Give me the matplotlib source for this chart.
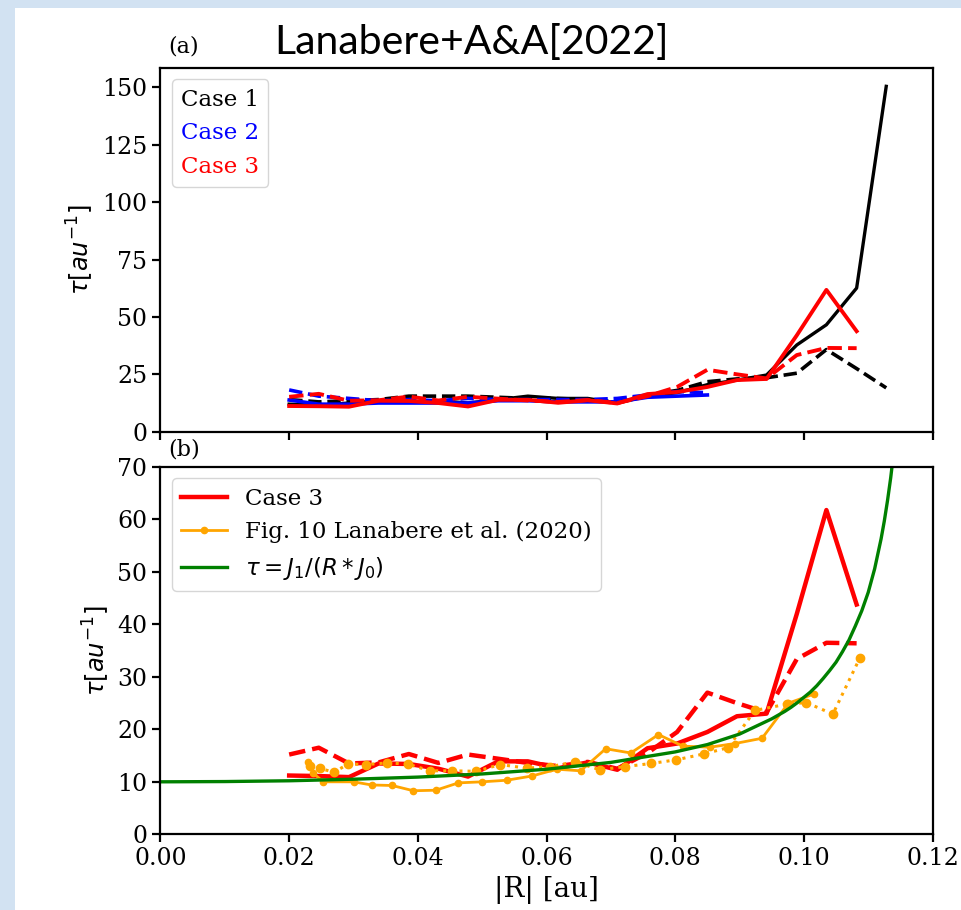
import matplotlib.pyplot as plt
from matplotlib.patches import Rectangle

# radial bins of the simulation cases (|R| in au)
r_case = [0.0200, 0.0246, 0.0293, 0.0339, 0.0386, 0.0432, 0.0478, 0.0525, 0.0571,
          0.0618, 0.0664, 0.0710, 0.0757, 0.0803, 0.0850, 0.0896, 0.0942, 0.0989,
          0.1035, 0.1082, 0.1128]

case1_solid = [12.0, 11.5, 12.5, 13.5, 13.0, 13.5, 12.5, 14.0, 15.5, 14.5, 14.5,
               12.5, 15.5, 17.0, 20.5, 22.5, 24.7, 37.8, 46.6, 62.6, 150.5]
case1_dash = [14.0, 13.0, 13.5, 14.0, 15.5, 15.5, 15.5, 15.0, 14.5, 14.5, 14.0,
              13.0, 16.0, 18.0, 21.8, 23.0, 23.5, 25.5, 35.8, 27.5, 19.1]
case2_solid = [13.8, 12.0, 12.0, 12.5, 12.5, 12.5, 12.5, 13.5, 13.5, 13.0, 13.0,
               13.0, 15.0, 15.5, 16.0]
case2_dash = [18.2, 15.5, 14.5, 13.5, 14.0, 13.5, 14.5, 14.0, 14.0, 14.0, 14.0,
              14.5, 16.0, 17.5, 17.0]
case3_solid = [11.2, 11.1, 10.9, 13.5, 13.4, 12.5, 11.0, 13.9, 13.9, 12.6, 13.7,
               12.3, 16.4, 17.3, 19.5, 22.5, 23.0, 42.0, 61.8, 43.8]
case3_dash = [15.2, 16.5, 13.5, 13.7, 15.3, 13.6, 15.2, 14.4, 13.6, 13.0, 13.8,
              12.5, 15.5, 19.5, 27.0, 25.0, 23.2, 33.4, 36.5, 36.4]

# Fig. 10 of Lanabere et al. (2020), two curves
r_fig10 = [0.0230, 0.0237, 0.0253, 0.0300, 0.0328, 0.0360, 0.0393, 0.0428, 0.0463,
           0.0500, 0.0538, 0.0577, 0.0616, 0.0653, 0.0692, 0.0731, 0.0774, 0.0812,
           0.0854, 0.0893, 0.0935, 0.0976, 0.1015]
tau_fig10 = [13.8, 11.7, 10.0, 10.0, 9.4, 9.3, 8.3, 8.4, 9.8, 10.0, 10.3, 11.1,
             12.4, 12.1, 16.3, 15.5, 19.0, 16.8, 16.6, 17.3, 18.3, 25.0, 26.7]
r_fig10_dot = [0.0232, 0.0248, 0.0269, 0.0292, 0.0320, 0.0352, 0.0384, 0.0419,
               0.0453, 0.0491, 0.0528, 0.0569, 0.0606, 0.0644, 0.0683, 0.0722,
               0.0763, 0.0802, 0.0844, 0.0882, 0.0924, 0.0973, 0.1004, 0.1045,
               0.1087]
tau_fig10_dot = [13.0, 12.6, 11.8, 13.4, 13.3, 13.6, 13.4, 12.1, 12.1, 12.0, 13.3,
                 12.6, 12.9, 13.8, 12.3, 12.9, 13.5, 14.2, 15.3, 16.5, 23.6, 24.8,
                 25.1, 22.9, 33.6]

# tau = J1/(R*J0) curve
r_bessel = [0.000, 0.010, 0.020, 0.030, 0.040, 0.050, 0.060, 0.070, 0.080, 0.085,
            0.090, 0.095, 0.097, 0.098, 0.099, 0.100, 0.101, 0.102, 0.103, 0.104,
            0.105, 0.106, 0.107, 0.108, 0.109, 0.110, 0.111, 0.112, 0.1125, 0.113,
            0.1135, 0.114]
tau_bessel = [10.0, 10.05, 10.2, 10.5, 10.9, 11.5, 12.4, 13.7, 15.7, 17.1,
              19.1, 22.0, 23.4, 24.2, 25.1, 26.1, 27.1, 28.3, 29.7, 31.2,
              32.8, 34.8, 37.0, 39.7, 42.6, 46.1, 50.6, 56.3, 59.7, 63.6,
              68.0, 73.2]

plt.rcParams['font.family'] = 'DejaVu Serif'
plt.rcParams['mathtext.fontset'] = 'dejavusans'
plt.rcParams['axes.linewidth'] = 1.6

fig = plt.figure(figsize=(9.61, 9.10), dpi=100)
fig.patch.set_facecolor('#d2e2f2')
fig.add_artist(Rectangle((15 / 961, 0), 1, 902 / 910, transform=fig.transFigure,
                         facecolor='white', edgecolor='none', zorder=-10))

ax1 = fig.add_axes([0.167, 0.5256, 0.8034, 0.3997])
ax2 = fig.add_axes([0.167, 0.0832, 0.8034, 0.4036], sharex=ax1)

# (a) all three cases
ax1.plot(r_case, case1_solid, color='black', lw=2.4, label='Case 1')
ax1.plot(r_case, case1_dash, color='black', lw=2.6, ls='--')
ax1.plot(r_case[:len(case2_solid)], case2_solid, color='blue', lw=2.6, label='Case 2')
ax1.plot(r_case[:len(case2_dash)], case2_dash, color='blue', lw=2.6, ls='--')
ax1.plot(r_case[:len(case3_solid)], case3_solid, color='red', lw=2.8, label='Case 3')
ax1.plot(r_case[:len(case3_dash)], case3_dash, color='red', lw=2.8, ls='--')
ax1.set_ylim(0, 158.5)
ax1.set_yticks([0, 25, 50, 75, 100, 125, 150])
ax1.set_ylabel(r'$\tau[au^{-1}]$', fontsize=17.5, family='DejaVu Sans')
ax1.legend(loc='upper left', fontsize=16.5, handlelength=0, handletextpad=0,
           labelcolor='linecolor')
ax1.tick_params(labelbottom=False)
ax1.text(0.010, 1.058, '(a)', transform=ax1.transAxes, fontsize=16, va='center')

# (b) case 3 against earlier results and the analytic curve
ax2.plot(r_case[:len(case3_solid)], case3_solid, color='red', lw=3.2, label='Case 3')
ax2.plot(r_case[:len(case3_dash)], case3_dash, color='red', lw=3.2, ls='--')
ax2.plot(r_fig10, tau_fig10, color='orange', lw=2, marker='o', ms=4.5,
         label='Fig. 10 Lanabere et al. (2020)')
ax2.plot(r_fig10_dot, tau_fig10_dot, color='orange', lw=2.2, ls=':', marker='o', ms=6)
ax2.plot(r_bessel, tau_bessel, color='green', lw=2.4, label=r'$\tau = J_1/(R*J_0)$')
ax2.set_xlim(0, 0.12)
ax2.set_ylim(0, 70)
ax2.set_ylabel(r'$\tau[au^{-1}]$', fontsize=17.5, family='DejaVu Sans')
ax2.set_xlabel('|R| [au]', fontsize=20)
ax2.legend(loc='upper left', fontsize=16.5)
ax2.text(0.010, 1.049, '(b)', transform=ax2.transAxes, fontsize=16, va='center')

for ax in (ax1, ax2):
    ax.tick_params(labelsize=17, width=1.6, length=6)

fig.text(0.491, 0.953, 'Lanabere+A&A[2022]', fontsize=29.5, family='Lato',
         ha='center', va='center')

fig.savefig('out.png', dpi=100, facecolor=fig.get_facecolor())
